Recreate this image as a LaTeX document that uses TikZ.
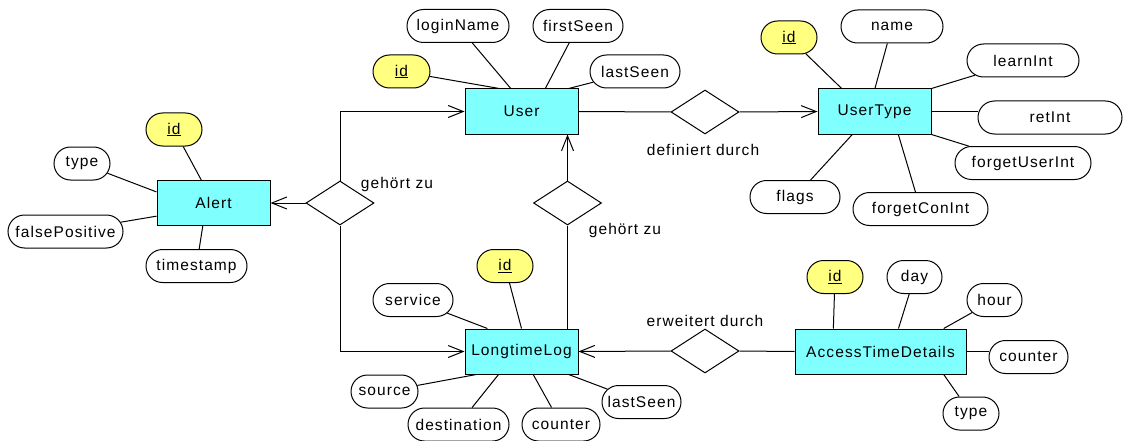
\documentclass[tikz,border=0pt]{standalone}
\usepackage{fontspec}
\setmainfont[LetterSpace=7]{Liberation Sans}
\usepackage{tikz}
\usetikzlibrary{shapes.geometric,shapes.misc,arrows.meta}
\definecolor{entcol}{RGB}{128,255,255}
\definecolor{keycol}{RGB}{255,255,128}

\begin{document}
\begin{tikzpicture}[x=1pt,y=-1pt,line width=1pt,
  every node/.style={font=\fontsize{15.5}{18}\selectfont},
  entity/.style={draw=black,fill=entcol,minimum width=113,minimum height=45,inner sep=0pt},
  attr/.style={draw=black,fill=white,rounded rectangle,minimum height=33,inner sep=0pt},
  key/.style={attr,fill=keycol},
  rel/.style={draw=black,fill=white,diamond,minimum width=68,minimum height=44,inner sep=0pt},
  arr/.style={-{Straight Barb[length=15pt,width=12pt]}}]
\useasboundingbox (0,0) rectangle (1123,441);

\node[entity] (alert) at (213.5,203) {Alert};
\node[entity] (user) at (521.5,111.5) {User};
\node[entity] (utype) at (874.5,111.5) {UserType};
\node[entity] (ltlog) at (521.5,351.5) {LongtimeLog};
\node[entity,minimum width=171] (atd) at (880.5,351.5) {AccessTimeDetails};

\node[rel] (relDef) at (705,112) {};
\node[rel] (relAlert) at (340,203) {};
\node[rel] (relLog) at (567.5,203) {};
\node[rel] (relExt) at (705,351) {};
\node (lblDef) at (703,150) {definiert durch};
\node (lblAlert) at (397,184) {gehört zu};
\node (lblLog) at (625,230) {gehört zu};
\node (lblExt) at (705,321) {erweitert durch};

\node[key,minimum width=56] (alertId) at (174,129.5) {\underline{id}};
\node[attr,minimum width=56] (alertType) at (82,163.5) {type};
\node[attr,minimum width=115] (alertFalse) at (65.5,231.5) {falsePositive};
\node[attr,minimum width=101] (alertTime) at (196.5,266) {timestamp};
\draw (alert.118) -- (alertId);
\draw (alert.169) -- (alertType);
\draw (alert.193) -- (alertFalse);
\draw (alert.245) -- (alertTime);

\node[key,minimum width=57] (userId) at (401.5,71.5) {\underline{id}};
\node[attr,minimum width=102] (userLogin) at (458,26) {loginName};
\node[attr,minimum width=90] (userFirst) at (578,26) {firstSeen};
\node[attr,minimum width=90] (userLast) at (635,71.5) {lastSeen};
\draw (user.134) -- (userId);
\draw (user.115) -- (userLogin);
\draw (user.44) -- (userFirst);
\draw (user.26) -- (userLast);

\node[key,minimum width=56] (utypeId) at (789,37.5) {\underline{id}};
\node[attr,minimum width=102] (utypeName) at (892,26.5) {name};
\node[attr,minimum width=112] (utypeLearn) at (1023,60.5) {learnInt};
\node[attr,minimum width=144] (utypeRet) at (1050,117.5) {retInt};
\node[attr,minimum width=136] (utypeFU) at (1023,163) {forgetUserInt};
\node[attr,minimum width=135] (utypeFC) at (920.5,209) {forgetConInt};
\node[attr,minimum width=90] (utypeFlags) at (795,197) {flags};
\draw (utype.145) -- (utypeId);
\draw (utype.89) -- (utypeName);
\draw (utype.north east) -- (utypeLearn);
\draw (utype.east) -- (utypeRet.west |- utype.east);
\draw (utype.south east) -- (utypeFU);
\draw (utype.316) -- (utypeFC);
\draw (utype.226) -- (utypeFlags);

\node[key,minimum width=56] (logId) at (505,266) {\underline{id}};
\node[attr,minimum width=80] (logService) at (413,300) {service};
\node[attr,minimum width=67] (logSource) at (384.5,391.5) {source};
\node[attr,minimum width=101] (logDest) at (458.5,424.5) {destination};
\node[attr,minimum width=78] (logCounter) at (561,424.5) {counter};
\node[attr,minimum width=79] (logLast) at (641.5,402) {lastSeen};
\draw (ltlog.90) -- (logId);
\draw (ltlog.146) -- (logService);
\draw (ltlog.207) -- (logSource);
\draw (ltlog.225) -- (logDest);
\draw (ltlog.297) -- (logCounter);
\draw (ltlog.334) -- (logLast);

\node[key,minimum width=56] (atdId) at (835,277) {\underline{id}};
\node[attr,minimum width=55] (atdDay) at (914.5,277) {day};
\node[attr,minimum width=55] (atdHour) at (994.5,300) {hour};
\node[attr,minimum width=79] (atdCounter) at (1028.5,357) {counter};
\node[attr,minimum width=56] (atdType) at (971,413.5) {type};
\draw (atd.154) -- (atdId);
\draw (atd.52) -- (atdDay);
\draw (atd.20) -- (atdHour);
\draw (atd.east) -- (atdCounter.west |- atd.east);
\draw (atd.340) -- (atdType);

\draw (user.east) -- (relDef.west);
\draw[arr] (relDef.east) -- (utype.west);
\draw[arr] (relAlert.west) -- (alert.east);
\draw[arr] (relAlert.north) |- (user.west);
\draw[arr] (relAlert.south) |- (ltlog.west);
\draw (relLog.south) -- (relLog.south |- ltlog.north);
\draw[arr] (relLog.north) -- (relLog.north |- user.south);
\draw (atd.west) -- (relExt.east);
\draw[arr] (relExt.west) -- (ltlog.east);
\end{tikzpicture}
\end{document}
